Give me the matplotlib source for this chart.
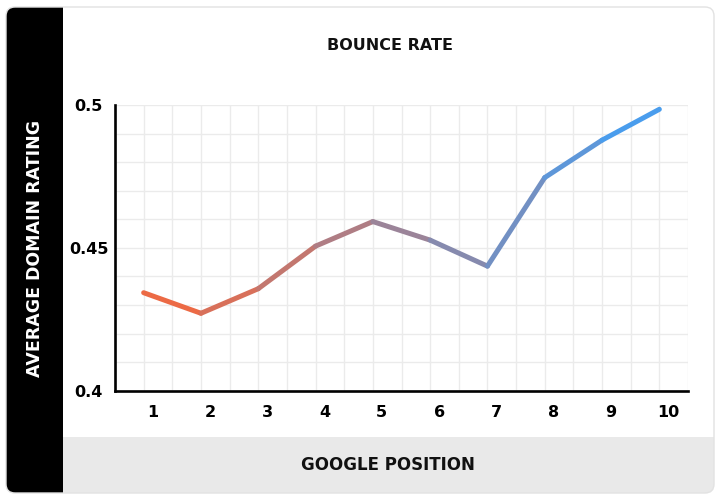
import numpy as np
import matplotlib
matplotlib.use("Agg")
import matplotlib.pyplot as plt
from matplotlib.patches import FancyBboxPatch, Rectangle
from matplotlib.collections import LineCollection
from matplotlib.colors import LinearSegmentedColormap
from matplotlib.transforms import ScaledTranslation

# data
positions = [1, 2, 3, 4, 5, 6, 7, 8, 9, 10]
domain_rating = [0.4343, 0.4271, 0.4357, 0.4506, 0.4592, 0.4527, 0.4436, 0.4746, 0.4877, 0.4985]
y_ticks = [0.4, 0.45, 0.5]
y_tick_labels = ["0.4", "0.45", "0.5"]

title = "BOUNCE RATE"
x_title = "GOOGLE POSITION"
y_title = "AVERAGE DOMAIN RATING"

fig = plt.figure(figsize=(7.25, 4.98), dpi=100)
fig.patch.set_facecolor("white")
inch = fig.dpi_scale_trans

# card background, grey footer band, black side band
card = FancyBboxPatch((0.06, 0.05), 7.08, 4.86, boxstyle="round,pad=0,rounding_size=0.09",
                      transform=inch, facecolor="white", edgecolor="none", zorder=0)
fig.add_artist(card)
foot = FancyBboxPatch((0.06, 0.05), 7.08, 0.56, boxstyle="round,pad=0,rounding_size=0.09",
                      transform=inch, facecolor="#e9e9e9", edgecolor="none", zorder=1)
fig.add_artist(foot)
fig.add_artist(Rectangle((0.63, 0.35), 6.51, 0.26, transform=inch, facecolor="#e9e9e9",
                         edgecolor="none", zorder=1))
side = FancyBboxPatch((0.06, 0.05), 0.57, 4.86, boxstyle="round,pad=0,rounding_size=0.09",
                      transform=inch, facecolor="black", edgecolor="none", zorder=2)
fig.add_artist(side)
fig.add_artist(Rectangle((0.35, 0.05), 0.28, 4.86, transform=inch, facecolor="black",
                         edgecolor="none", zorder=2))
border = FancyBboxPatch((0.06, 0.05), 7.08, 4.86, boxstyle="round,pad=0,rounding_size=0.09",
                        transform=inch, facecolor="none", edgecolor="#e2e2e2", lw=1, zorder=3)
fig.add_artist(border)

ax = fig.add_axes([115 / 725, (498 - 390.7) / 498, 573 / 725, 285.7 / 498])
ax.set_facecolor("none")
ax.set_zorder(5)

# gradient line, one colour per segment
cmap = LinearSegmentedColormap.from_list("grad", ["#ec6a45", "#4a9ded"])
pts = np.column_stack([positions, domain_rating])
segs = np.stack([pts[:-1], pts[1:]], axis=1)
cols = [cmap(k / (len(segs) - 1)) for k in range(len(segs))]
lc = LineCollection(segs, colors=cols, linewidths=3.6, capstyle="round", joinstyle="round", zorder=4)
ax.add_collection(lc)

ax.set_xlim(0.5, 10.5)
ax.set_ylim(0.4, 0.5)

ax.set_xticks(positions)
ax.set_xticklabels([str(p) for p in positions], fontsize=11.5, fontweight="bold")
ax.set_xticks(np.arange(0.5, 10.6, 0.5), minor=True)
ax.set_yticks(y_ticks)
ax.set_yticklabels(y_tick_labels, fontsize=11.5, fontweight="bold")
ax.set_yticks(np.arange(0.4, 0.5001, 0.01), minor=True)
ax.tick_params(axis="both", which="both", length=0)
ax.tick_params(axis="x", pad=10)
ax.tick_params(axis="y", pad=19)
for lab in ax.get_yticklabels():
    lab.set_horizontalalignment("center")
for lab in ax.get_xticklabels():
    lab.set_transform(lab.get_transform() + ScaledTranslation(0.09, 0, inch))

ax.grid(which="both", color="#ebebeb", lw=1)
ax.set_axisbelow(True)

for s in ["top", "right"]:
    ax.spines[s].set_visible(False)
for s in ["left", "bottom"]:
    ax.spines[s].set_linewidth(1.9)
    ax.spines[s].set_color("black")

fig.text(390 / 725, 1 - 46 / 498, title, ha="center", va="center", fontsize=11.5,
         fontweight="bold", color="#111111", zorder=6)
fig.text(388 / 725, 1 - 465 / 498, x_title, ha="center", va="center", fontsize=12,
         fontweight="bold", color="#111111", zorder=6)
fig.text(35 / 725, 1 - 248 / 498, y_title, ha="center", va="center", rotation=90,
         fontsize=12.5, fontweight="bold", color="white", zorder=6)

fig.savefig("out.png", dpi=100)
